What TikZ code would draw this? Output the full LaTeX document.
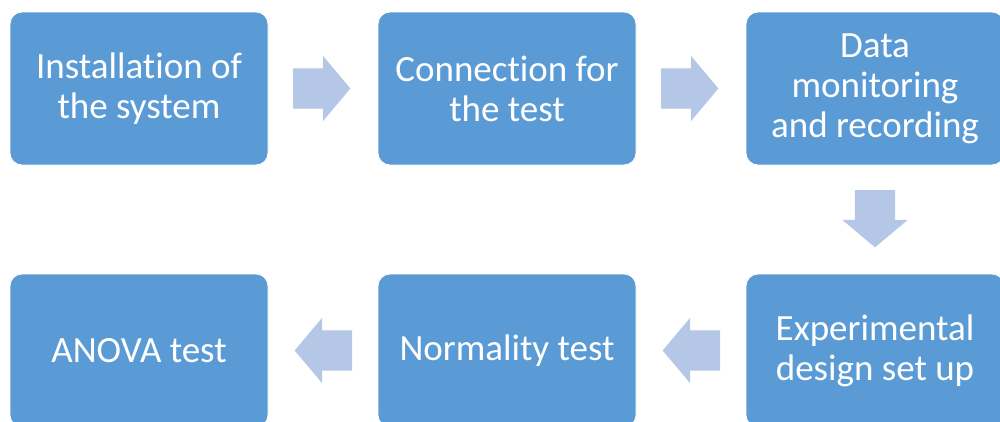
\documentclass[tikz,border=0pt]{standalone}
\usepackage{fontspec}
\setmainfont[Ligatures={NoCommon}]{Carlito}
\usepackage{tikz}
\usetikzlibrary{positioning,calc,shapes.arrows}
\definecolor{stepblue}{HTML}{5B9BD5}
\definecolor{arrowblue}{HTML}{B4C7E7}

\tikzset{
  stepbox/.style={fill=stepblue,draw=white,line width=0.8pt,rounded corners=12pt,
    outer sep=0pt,minimum width=258pt,minimum height=153pt,align=center,text=white,
    font=\fontsize{37}{40}\selectfont},
  flowarrow/.style={single arrow,fill=arrowblue,draw=none,inner sep=20pt,
    outer sep=0pt,anchor=tail,minimum height=55pt,minimum width=65pt,
    single arrow head extend=12.5pt,single arrow tip angle=100},
}

\begin{document}
\begin{tikzpicture}[x=1pt,y=-1pt]
  \useasboundingbox (0,0) rectangle (1000,421);
  \clip (0,0) rectangle (1000,421);
  % top row
  \node[stepbox] (install) at (139,88.5) {Installation of\\the system};
  \node[stepbox,right=110pt of install] (connect) {Connection for\\the test};
  \node[stepbox,right=110pt of connect] (monitor) {Data\\monitoring\\and recording};
  % bottom row
  \node[stepbox,below=109pt of monitor] (design) {Experimental\\design set up};
  \node[stepbox,left=110pt of design] (normal) {Normality test};
  \node[stepbox,left=110pt of normal] (anova) {ANOVA test};
  % block arrows between steps
  \node[flowarrow] (a1) at ($(install.east)+(25,0)$) {};
  \node[flowarrow] (a2) at ($(connect.east)+(25,0)$) {};
  \node[flowarrow,shape border rotate=270] (a3) at ($(monitor.south)+(0,25)$) {};
  \node[flowarrow,shape border rotate=180] (a4) at ($(design.west)+(-26,0)$) {};
  \node[flowarrow,shape border rotate=180] (a5) at ($(normal.west)+(-26,0)$) {};
\end{tikzpicture}
\end{document}
